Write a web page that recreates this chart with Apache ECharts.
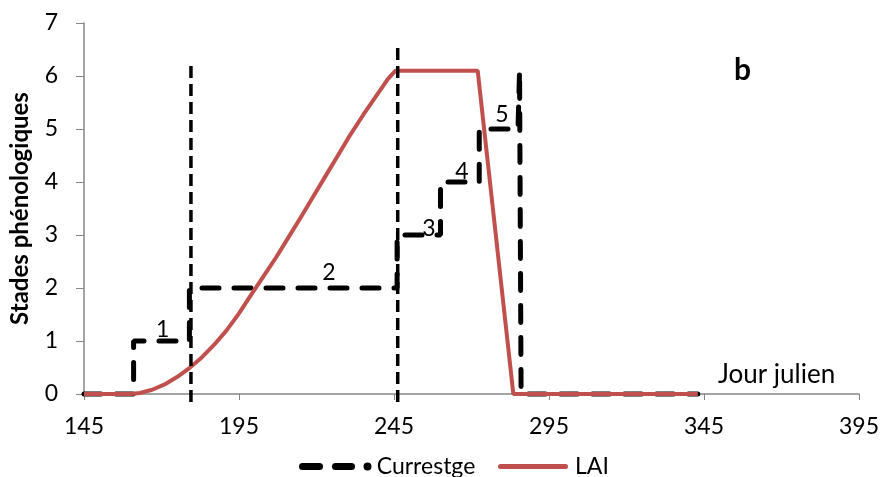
<!DOCTYPE html>
<html>
<head>
<meta charset="utf-8">
<script src="https://cdn.jsdelivr.net/npm/echarts@6/dist/echarts.min.js"></script>
<style>
  html, body { margin: 0; padding: 0; background: #fff; }
  #main { width: 882px; height: 477px; }
</style>
</head>
<body>
<div id="main"></div>
<script>
// Stades phénologiques (Currestge) - jour julien / stade
var stageDays = [145, 161, 161, 179, 179, 246, 246, 260, 260, 272.5, 272.5, 285, 285.5, 286, 343];
var stageVals = [0, 0, 1, 1, 2, 2, 3, 3, 4, 4, 5, 5, 6.1, 0, 0];

// LAI
var laiDays = [145, 155, 160, 163, 167, 171, 175, 179, 183, 187, 191, 195, 199, 203, 207, 211, 215, 219, 223, 227, 231, 235, 239, 243, 245.5, 272, 283.5, 343];
var laiVals = [0, 0, 0, 0.02, 0.08, 0.18, 0.32, 0.49, 0.69, 0.93, 1.2, 1.52, 1.88, 2.23, 2.58, 2.96, 3.34, 3.73, 4.12, 4.51, 4.9, 5.26, 5.6, 5.94, 6.1, 6.1, 0, 0];

// lignes verticales pointillées
var vline1 = [[179.5, -0.15], [179.5, 6.3]];
var vline2 = [[246.2, -0.15], [246.2, 6.58]];

// étiquettes des stades
var stageLabels = ['1', '2', '3', '4', '5'];
var stageLabelPos = [[170.4, 1.21], [224, 2.3], [256.3, 3.13], [266.9, 4.2], [279.8, 5.27]];

var xTicks = [145, 195, 245, 295, 345, 395];

function zip(a, b) {
    var out = [];
    for (var i = 0; i < a.length; i++) out.push([a[i], b[i]]);
    return out;
}

var chart = echarts.init(document.getElementById('main'));
var font = 'Lato, "Open Sans", sans-serif';

// icônes de légende façon Excel
var dashIcon = 'path://M3.5,0.5 H20.5 A3.5,3.5 0 0 1 20.5,7.5 H3.5 A3.5,3.5 0 0 1 3.5,0.5 Z ' +
    'M36.5,0.5 H52.5 A3.5,3.5 0 0 1 52.5,7.5 H36.5 A3.5,3.5 0 0 1 36.5,0.5 Z ' +
    'M64.5,4 A4,4 0 1 0 72.5,4 A4,4 0 1 0 64.5,4 Z';
var lineIcon = 'path://M2.5,0 H67.5 A2.5,2.5 0 0 1 67.5,5 H2.5 A2.5,2.5 0 0 1 2.5,0 Z';

var legendText = { fontSize: 23, color: '#000', fontFamily: font };

var option = {
    animation: false,
    textStyle: { fontFamily: font },
    grid: { left: 81, right: 23, top: 23, bottom: 83 },
    legend: [
        {
            data: [{ name: 'Currestge', icon: dashIcon }],
            top: 450,
            left: 294,
            itemWidth: 73,
            itemHeight: 8,
            itemStyle: { color: '#000' },
            textStyle: legendText
        },
        {
            data: [{ name: 'LAI', icon: lineIcon }],
            top: 450,
            left: 493,
            itemWidth: 70,
            itemHeight: 5,
            itemStyle: { color: '#C0504D' },
            textStyle: Object.assign({ padding: [0, 0, 0, 2] }, legendText)
        }
    ],
    xAxis: {
        type: 'value',
        min: xTicks[0],
        max: xTicks[xTicks.length - 1],
        interval: 50,
        splitLine: { show: false },
        axisLine: { lineStyle: { color: '#868686', width: 1.5 } },
        axisTick: { show: true, length: 6, lineStyle: { color: '#868686' } },
        axisLabel: { fontSize: 23, color: '#000', margin: 21, fontFamily: font }
    },
    yAxis: {
        type: 'value',
        min: 0,
        max: 7,
        interval: 1,
        name: 'Stades phénologiques',
        nameLocation: 'middle',
        nameGap: 52,
        nameTextStyle: { fontSize: 24, fontWeight: 'bold', color: '#000', fontFamily: font },
        splitLine: { show: false },
        axisLine: { show: true, lineStyle: { color: '#868686', width: 1.5 } },
        axisTick: { show: true, length: 8, lineStyle: { color: '#868686' } },
        axisLabel: { fontSize: 23, color: '#000', margin: 26, fontFamily: font }
    },
    graphic: [
        { type: 'text', left: 718, top: 362, style: { text: 'Jour julien', fontSize: 26, fill: '#000', fontFamily: font } },
        { type: 'text', left: 734, top: 55, style: { text: 'b', fontSize: 30, fontWeight: 'bold', fill: '#000', fontFamily: font } }
    ],
    series: [
        {
            name: 'Currestge',
            type: 'line',
            data: zip(stageDays, stageVals),
            showSymbol: false,
            symbol: 'none',
            clip: false,
            lineStyle: { color: '#000', width: 5, type: [17, 15], cap: 'round' },
            itemStyle: { color: '#000' },
            z: 2
        },
        {
            name: 'LAI',
            type: 'line',
            data: zip(laiDays, laiVals),
            showSymbol: false,
            symbol: 'none',
            lineStyle: { color: '#C0504D', width: 4 },
            itemStyle: { color: '#C0504D' },
            z: 3
        },
        {
            name: 'v1',
            type: 'line',
            data: vline1,
            showSymbol: false,
            clip: false,
            lineStyle: { color: '#000', width: 3.5, type: [12, 6] },
            z: 4
        },
        {
            name: 'v2',
            type: 'line',
            data: vline2,
            showSymbol: false,
            clip: false,
            lineStyle: { color: '#000', width: 3.5, type: [12, 6] },
            z: 4
        },
        {
            name: 'labels',
            type: 'scatter',
            symbolSize: 0,
            itemStyle: { opacity: 1 },
            data: stageLabelPos.map(function (p, i) {
                return { value: p, label: { formatter: stageLabels[i] } };
            }),
            label: { show: true, position: 'inside', fontSize: 23, color: '#000', fontFamily: font },
            z: 5
        }
    ]
};
chart.setOption(option);
</script>
</body>
</html>
